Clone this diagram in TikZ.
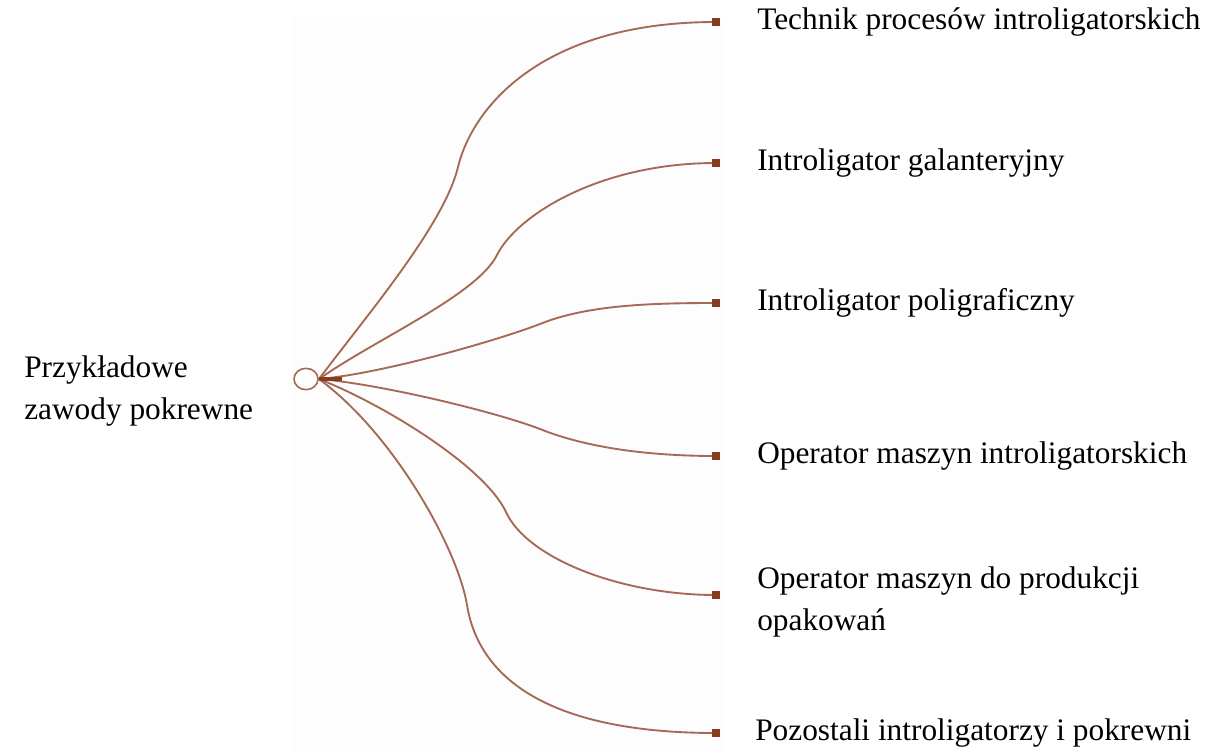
\documentclass[tikz,border=0pt]{standalone}
\usepackage{fontspec}
\setmainfont{Liberation Serif}
\usetikzlibrary{shapes.geometric}

\definecolor{linkbrown}{RGB}{165,105,85}
\definecolor{tipbrown}{RGB}{135,60,30}
\tikzset{
  hubnode/.style={ellipse, draw=linkbrown, fill=white, line width=1.2pt, minimum width=18pt, minimum height=16pt, inner sep=0pt},
  tipnode/.style={rectangle, fill=tipbrown, minimum size=6.5pt, inner sep=0pt},
  link/.style={linkbrown, line width=1.4pt},
  jobtext/.style={anchor=west, inner sep=0pt, align=left, font=\fontsize{23.5}{31.5}\selectfont}
}

\begin{document}
\begin{tikzpicture}[x=0.75pt, y=-0.75pt]
  \useasboundingbox (0,0) rectangle (1212,753);
  \fill [black!0.8] (293,18) rectangle (722,753);

  % hub and its label
  \node [jobtext] (source) at (24,391) {Przykładowe\\zawody pokrewne};
  \coordinate (start) at (319,379);
  \coordinate (stem) at (342,379);
  \node [tipnode] (t1) at (716,22) {};
  \node [tipnode] (t2) at (716,163) {};
  \node [tipnode] (t3) at (716,303) {};
  \node [tipnode] (t4) at (716,456) {};
  \node [tipnode] (t5) at (716,595) {};
  \node [tipnode] (t6) at (716,733) {};

  \draw [link] (start) .. controls (367,315) and (444,225) .. (458,167)
                       .. controls (472,109) and (540,22) .. (t1.center);
  \draw [link] (start) .. controls (376,339) and (477,295) .. (497,255)
                       .. controls (517,215) and (600,163) .. (t2.center);
  \draw [link] (start) .. controls (379,374) and (493,342) .. (540,324)
                       .. controls (587,305) and (650,303) .. (t3.center);
  \draw [link] (start) .. controls (379,384) and (493,411) .. (540,429)
                       .. controls (587,448) and (650,456) .. (t4.center);
  \draw [link] (start) .. controls (385,405) and (485,467) .. (506,512)
                       .. controls (527,558) and (620,595) .. (t5.center);
  \draw [link] (start) .. controls (395,435) and (458,550) .. (467,605)
                       .. controls (480,685) and (560,733) .. (t6.center);

  \node [hubnode] (hub) at (306,379) {};
  \draw [tipbrown, line width=3.4pt] (hub.east) -- (stem);
  \node [tipnode] at (t1) {};
  \node [tipnode] at (t2) {};
  \node [tipnode] at (t3) {};
  \node [tipnode] at (t4) {};
  \node [tipnode] at (t5) {};
  \node [tipnode] at (t6) {};

  % job names
  \node [jobtext] (l1) at (757,22) {Technik procesów introligatorskich};
  \node [jobtext] (l2) at (757,163) {Introligator galanteryjny};
  \node [jobtext] (l3) at (757,303) {Introligator poligraficzny};
  \node [jobtext] (l4) at (757,456) {Operator maszyn introligatorskich};
  \node [jobtext] (l5) at (757,602) {Operator maszyn do produkcji\\opakowań};
  \node [jobtext] (l6) at (755,733) {Pozostali introligatorzy i pokrewni};
\end{tikzpicture}
\end{document}
